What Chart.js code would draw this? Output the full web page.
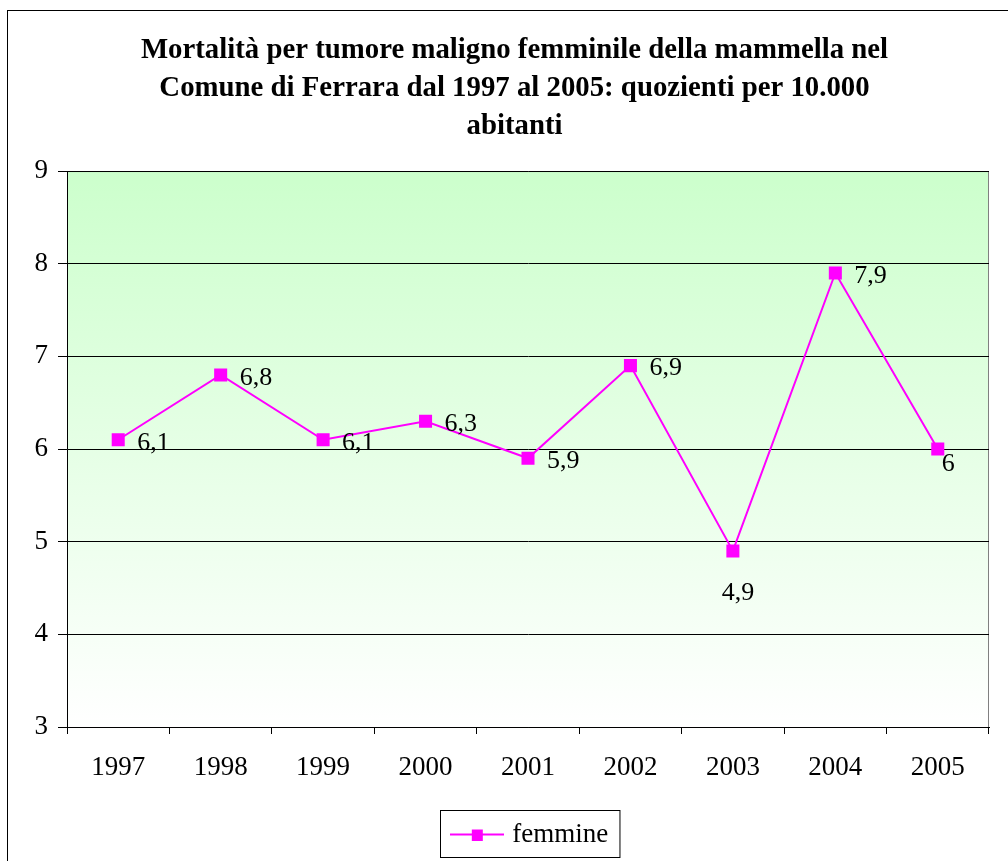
<!DOCTYPE html>
<html>
<head>
<meta charset="utf-8">
<script src="https://cdn.jsdelivr.net/npm/chart.js@4/dist/chart.umd.min.js"></script>
<style>
  html, body { margin: 0; padding: 0; background: #fff; }
  #wrap { width: 1008px; height: 861px; }
</style>
</head>
<body>
<div id="wrap"><canvas id="myChart"></canvas></div>
<script>
var years = ['1997', '1998', '1999', '2000', '2001', '2002', '2003', '2004', '2005'];
var femmine = [6.1, 6.8, 6.1, 6.3, 5.9, 6.9, 4.9, 7.9, 6.0];
var yTicks = [3, 4, 5, 6, 7, 8, 9];
var titleLines = [
    'Mortalità per tumore maligno femminile della mammella nel',
    'Comune di Ferrara dal 1997 al 2005: quozienti per 10.000',
    'abitanti'
];

var serif = "'Liberation Serif', 'Times New Roman', serif";

// legend marker: a short line with a square in the middle
var marker = document.createElement('canvas');
marker.width = 54; marker.height = 12;
var mctx = marker.getContext('2d');
mctx.strokeStyle = '#ff00ff'; mctx.lineWidth = 2;
mctx.beginPath(); mctx.moveTo(0, 6); mctx.lineTo(54, 6); mctx.stroke();
mctx.fillStyle = '#ff00ff'; mctx.fillRect(22, 1, 11, 11);

var frame = {
    id: 'frame',
    afterLayout: function(chart) {
        // title and legend sit a bit right of the plot centre
        var lg = chart.legend;
        lg.left += 37; lg.right += 37;
        lg.legendHitBoxes.forEach(function(hb) { hb.left += 37; });
        chart.titleBlock.left += 20; chart.titleBlock.right += 20;
    },
    beforeDraw: function(chart) {
        var c = chart.ctx, a = chart.chartArea;
        c.save();
        var g = c.createLinearGradient(0, a.top, 0, a.bottom);
        g.addColorStop(0, '#ccffcc');
        g.addColorStop(1, '#ffffff');
        c.fillStyle = g;
        c.fillRect(a.left, a.top, a.right - a.left, a.bottom - a.top);
        c.strokeStyle = '#808080'; c.lineWidth = 1;
        c.strokeRect(a.left + 0.5, a.top + 0.5, a.right - a.left - 1, a.bottom - a.top);
        c.strokeStyle = '#000';
        c.strokeRect(7.5, 10.5, 1100, 1000);
        c.restore();
    },
    afterDraw: function(chart) {
        var lg = chart.legend, c = chart.ctx;
        if (!lg || !lg.legendHitBoxes.length) return;
        var hb = lg.legendHitBoxes[0];
        c.save();
        c.strokeStyle = '#000'; c.lineWidth = 1;
        c.strokeRect(Math.round(hb.left) - 14.5, 810.5, hb.width + 26, 47);
        c.restore();
    }
};

var labels = {
    id: 'labels',
    afterDatasetsDraw: function(chart) {
        var c = chart.ctx;
        var meta = chart.getDatasetMeta(0);
        c.save();
        c.font = '26px ' + serif;
        c.fillStyle = '#000';
        c.textBaseline = 'middle';
        meta.data.forEach(function(pt, i) {
            var txt = String(femmine[i]).replace('.', ',');
            var x = pt.x + 19, y = pt.y + 3;
            c.textAlign = 'left';
            if (years[i] === '2003') { c.textAlign = 'center'; x = pt.x + 5; y = pt.y + 42; }
            if (years[i] === '2005') { x = pt.x + 4; y = pt.y + 15; }
            c.fillText(txt, x, y);
        });
        c.restore();
    }
};

var ctx = document.getElementById('myChart').getContext('2d');
var myChart = new Chart(ctx, {
    type: 'line',
    data: {
        labels: years,
        datasets: [{
            label: 'femmine',
            data: femmine,
            borderColor: '#ff00ff',
            backgroundColor: '#ff00ff',
            borderWidth: 2,
            pointStyle: 'rect',
            pointRadius: 7.8,
            pointHoverRadius: 7.8,
            tension: 0
        }]
    },
    options: {
        responsive: true,
        maintainAspectRatio: false,
        animation: false,
        layout: { padding: { left: 0, right: 19, top: 0, bottom: 3 } },
        plugins: {
            title: {
                display: true,
                text: titleLines,
                color: '#000',
                font: { family: serif, size: 28.8, weight: 'bold', lineHeight: 1.32 },
                padding: { top: 32, bottom: 25 }
            },
            legend: {
                position: 'bottom',
                labels: {
                    color: '#000',
                    font: { family: serif, size: 27 },
                    usePointStyle: true,
                    pointStyleWidth: 44,
                    padding: 10,
                    generateLabels: function(chart) {
                        return [{
                            text: 'femmine',
                            pointStyle: marker,
                            fillStyle: '#ff00ff',
                            strokeStyle: '#ff00ff',
                            lineWidth: 0,
                            datasetIndex: 0
                        }];
                    }
                }
            },
            tooltip: { enabled: false }
        },
        scales: {
            x: {
                offset: true,
                grid: { offset: true, drawOnChartArea: false, color: '#000', tickLength: 7 },
                border: { color: '#000' },
                ticks: { color: '#000', font: { family: serif, size: 27 }, padding: 18, maxRotation: 0 },
                afterFit: function(s) { s.height = 84; }
            },
            y: {
                min: 3,
                max: 9,
                afterBuildTicks: function(s) { s.ticks = yTicks.map(function(v) { return { value: v }; }); },
                grid: { color: '#000', tickLength: 9 },
                border: { color: '#000' },
                ticks: { color: '#000', font: { family: serif, size: 27 }, padding: 10 },
                afterFit: function(s) { s.width = 67; }
            }
        }
    },
    plugins: [frame, labels]
});
</script>
</body>
</html>
